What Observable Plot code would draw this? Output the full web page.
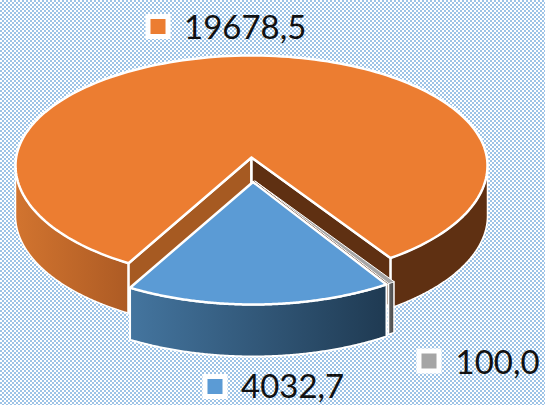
<!DOCTYPE html>
<html><head><meta charset="utf-8">
<script src="https://cdn.jsdelivr.net/npm/d3@7"></script>
<script src="https://cdn.jsdelivr.net/npm/@observablehq/plot@0.6"></script>
<style>html,body{margin:0;padding:0;background:#fff}svg{display:block}</style>
</head><body><div id="chart"></div>
<script>
const labels = ["19678,5", "4032,7", "100,0"];
const values = [19678.5, 4032.7, 100.0];
const topColors = ["#ec7d31", "#5b9bd5", "#a5a5a5"];

// layout of the tilted pie
const W = 545, H = 405;
const cx = 251, cy = 165, rx = 236, ryBack = 110, ryFront = 114.5, apexLift = 8;
const rad = Math.PI / 180;
const frontStretch = 1.08;               // foreshortening of the front slices
const blueStart = -31.4;                 // rim parameter, 0 = front, + = right
const total = d3.sum(values);
const sweepBlue = values[1] / total * 360 * frontStretch;
const sweepGrey = values[2] / total * 360 * frontStretch;
const a = {
  blue: [blueStart, blueStart + sweepBlue],
  grey: [blueStart + sweepBlue, blueStart + sweepBlue + sweepGrey],
  orange: [blueStart + sweepBlue + sweepGrey, blueStart + 360]
};

const rim = (t, dx, dy) => {
  const s = Math.sin(t * rad), c = Math.cos(t * rad);
  return [cx + dx + rx * s, cy + dy + (c > 0 ? ryFront : ryBack) * c];
};
const arc = (t0, t1, dx, dy) => d3.range(0, 181).map(i => rim(t0 + (t1 - t0) * i / 180, dx, dy));
const poly = pts => { const c = pts.concat([pts[0]]); return c.map(([x, y]) => ({x, y})); };
const apex = (dx, dy) => [cx + dx, cy + dy - apexLift];

const D = 50, DB = 52;                   // side wall heights
const side = (t0, t1, dx, dy, d) => {
  const top = arc(t0, t1, dx, dy);
  const bot = arc(t1, t0, dx, dy + d);
  return poly(top.concat(bot));
};
const wedge = (t0, t1, dx, dy) => poly([apex(dx, dy), ...arc(t0, t1, dx, dy)]);
const wall = (t, dx, dy, d) => {
  const A = apex(dx, dy), P = rim(t, dx, dy);
  return poly([A, P, [P[0], P[1] + d], [A[0], A[1] + d]]);
};

const blueOff = [1.5, 24.5], greyOff = [3.5, 23.5];
const edge = {stroke: "white", strokeLinejoin: "round"};
const shape = (pts, fill, sw = 2) => Plot.line(pts, {x: "x", y: "y", fill, strokeWidth: sw, ...edge});

const grad = (id, x1, x2, c1, c2) =>
  `<linearGradient id="${id}" gradientUnits="userSpaceOnUse" x1="${x1}" x2="${x2}" y1="0" y2="0"><stop offset="0" stop-color="${c1}"/><stop offset="1" stop-color="${c2}"/></linearGradient>`;
const defs = () => {
  const g = document.createElementNS("http://www.w3.org/2000/svg", "g");
  g.innerHTML = "<defs>" +
    grad("gOrange", rim(-90, 0, 0)[0], rim(a.blue[0], 0, 0)[0], "#d2742f", "#ad5b24") +
    grad("gBlue", rim(a.blue[0], blueOff[0], 0)[0], rim(a.blue[1], blueOff[0], 0)[0], "#44759f", "#1f3a52") +
    grad("gGrey", rim(a.grey[0], greyOff[0], 0)[0], rim(a.grey[1], greyOff[0], 0)[0], "#666666", "#4a4a4a") +
    "</defs>";
  return g;
};

// legend entries
const legend = [
  {i: 0, kx: 157.5, ky: 26, tx: 183.5, ty: 38},
  {i: 1, kx: 214.5, ky: 386, tx: 240.5, ty: 397},
  {i: 2, kx: 428.5, ky: 360.5, tx: 455, ty: 373}
].map(d => ({...d, label: labels[d.i], color: topColors[d.i]}));

const plot = Plot.plot({
  width: W, height: H, margin: 0,
  x: {domain: [0, W], range: [0, W], axis: null},
  y: {domain: [0, H], range: [0, H], axis: null},
  style: {
    background: "repeating-conic-gradient(#9dc3e6 0 25%, #ffffff 0 50%) 0 0 / 4px 4px",
    overflow: "hidden"
  },
  marks: [
    defs,
    // orange slice: outer walls, cut walls, top
    shape(side(-90, a.blue[0], 0, 0, D), "url(#gOrange)", 1.5),
    shape(side(a.orange[0], 90, 0, 0, D), "#5f3012", 1.5),
    shape(wall(a.blue[0], 0, 0, D), "#a65a22", 2.5),
    shape(wall(a.orange[0], 0, 0, D), "#5f3012", 2.5),
    shape(wedge(a.orange[0], a.orange[1], 0, 0), topColors[0], 2.5),
    // grey slice
    shape(side(a.grey[0], a.grey[1], greyOff[0], greyOff[1], DB - 1), "url(#gGrey)", 1.5),
    shape(wedge(a.grey[0], a.grey[1], greyOff[0], greyOff[1]), topColors[2], 1),
    // blue slice
    shape(side(a.blue[0], a.blue[1], blueOff[0], blueOff[1], DB), "url(#gBlue)", 2),
    shape(wedge(a.blue[0], a.blue[1], blueOff[0], blueOff[1]), topColors[1], 2.5),
    // labels
    Plot.dot(legend, {x: "kx", y: "ky", symbol: "square", r: 11.3, fill: "color", stroke: "white", strokeWidth: 5}),
    Plot.text(legend, {x: "tx", y: "ty", text: "label", textAnchor: "start", lineAnchor: "bottom",
      fontFamily: "Lato", fontSize: 33, fill: "#111111"})
  ]
});
document.getElementById("chart").append(plot);
</script></body></html>
